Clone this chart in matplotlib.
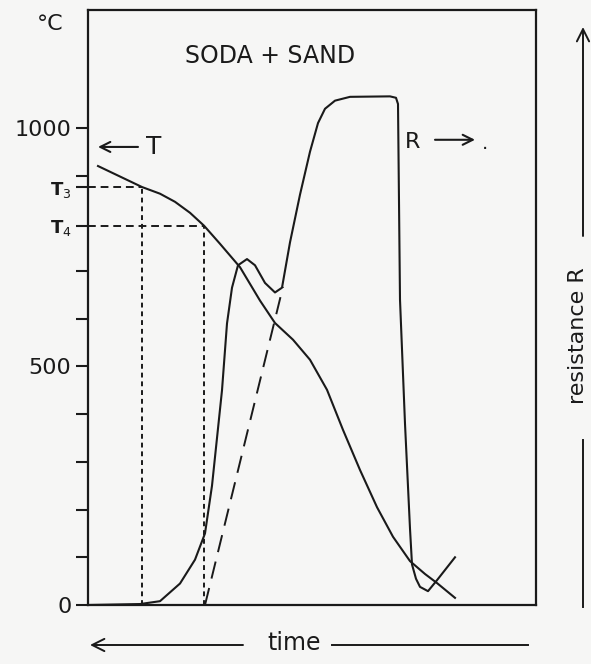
import matplotlib
matplotlib.use("Agg")
import matplotlib.pyplot as plt
from matplotlib.lines import Line2D
from matplotlib.patches import FancyArrowPatch

# ---------------- data ----------------
# time axis in arbitrary units (left axis = 0, right frame = 448)
temp_time = [10, 32, 54, 72, 87, 102, 116, 132, 152, 172, 187, 205, 222,
             239, 255, 272, 289, 305, 322, 337, 349, 367]
temp_vals = [920, 898, 876, 862, 845, 822, 795, 757, 708, 638, 591, 556, 514,
             451, 367, 283, 205, 143, 92, 65, 46, 15]

res_time = [0, 52, 72, 92, 107, 117, 124, 129, 134, 139, 144, 150, 159, 167,
            177, 187, 194, 202, 212, 222, 230, 237, 247, 262, 302, 308, 310,
            312, 317, 322, 324, 328, 332, 340, 349, 367]
res_vals = [0, 2, 8, 45, 95, 150, 250, 350, 450, 590, 665, 712, 725, 712,
            675, 655, 665, 760, 860, 950, 1010, 1040, 1057, 1065, 1066, 1063,
            1050, 640, 380, 160, 85, 55, 38, 29, 52, 100]

extrap_time = [117, 195]
extrap_vals = [0, 667]

T3_time, T3_val = 54, 876
T4_time, T4_val = 116, 795

ytick_vals = [0, 100, 200, 300, 400, 500, 600, 700, T4_val, T3_val, 900, 1000]
ytick_labels = ["0", "", "", "", "", "500", "", "", "T$_4$", "T$_3$", "", "1000"]

# ---------------- figure ----------------
W, H = 591, 664
fig = plt.figure(figsize=(W / 100, H / 100), dpi=100)
bg = "#f6f6f5"
fig.patch.set_facecolor(bg)
ax = fig.add_axes([88 / W, 1 - 605 / H, (536 - 88) / W, (605 - 10) / H])
ax.set_facecolor(bg)
ax.set_xlim(0, 448)
ax.set_ylim(0, 1247)

ink = "#1a1a1a"
for s in ax.spines.values():
    s.set_linewidth(1.6)
    s.set_color(ink)

ax.set_xticks([])
ax.set_yticks(ytick_vals)
ax.set_yticklabels(ytick_labels)
ax.tick_params(axis="y", direction="out", length=9, width=1.5, color=ink,
               labelsize=16, pad=3, labelcolor=ink)
for lab in ax.get_yticklabels():
    if "T" in lab.get_text():
        lab.set_fontsize(13)
        lab.set_fontweight("bold")

lw = 1.5
ax.plot(temp_time, temp_vals, color=ink, lw=lw, solid_joinstyle="round")
ax.plot(res_time, res_vals, color=ink, lw=lw, solid_joinstyle="round")
ax.plot(extrap_time, extrap_vals, color=ink, lw=1.4, dashes=(9, 5))

# T3 / T4 construction lines
ax.plot([0, T3_time], [T3_val, T3_val], color=ink, lw=1.4, dashes=(4, 2.5))
ax.plot([0, T4_time], [T4_val, T4_val], color=ink, lw=1.4, dashes=(4, 2.5))
ax.plot([T3_time, T3_time], [0, T3_val], color=ink, lw=1.4, dashes=(2.5, 2))
ax.plot([T4_time, T4_time], [0, T4_val], color=ink, lw=1.4, dashes=(2.5, 2))

# labels inside the plot
ax.text(182, 1150, "SODA + SAND", fontsize=17, ha="center", va="center", color=ink)
ax.annotate("", xy=(10, 960), xytext=(50, 960),
            arrowprops=dict(arrowstyle="->", lw=1.5, color=ink,
                            mutation_scale=18, shrinkA=0, shrinkB=0))
ax.text(66, 960, "T", fontsize=18, ha="center", va="center", color=ink)
ax.text(325, 970, "R", fontsize=16, ha="center", va="center", color=ink)
ax.annotate("", xy=(387, 975), xytext=(347, 975),
            arrowprops=dict(arrowstyle="->", lw=1.5, color=ink,
                            mutation_scale=18, shrinkA=0, shrinkB=0))
ax.text(397, 968, ".", fontsize=14, ha="center", va="center", color=ink)

# degree label
fig.text(50 / W, 1 - 24 / H, "°C", fontsize=16, ha="center", va="center", color=ink)

# bottom time arrow
fig.text(294 / W, 1 - 643 / H, "time", fontsize=17, ha="center", va="center", color=ink)
fig.add_artist(Line2D([332 / W, 528 / W], [1 - 645 / H, 1 - 645 / H],
                      color=ink, lw=1.4, transform=fig.transFigure))
fig.add_artist(FancyArrowPatch(
    (243 / W, 1 - 645 / H), (90 / W, 1 - 645 / H), transform=fig.transFigure,
    arrowstyle="->", mutation_scale=22, lw=1.4, color=ink, shrinkA=0, shrinkB=0))

# right resistance arrow
xr = 583 / W
fig.add_artist(Line2D([xr, xr], [1 - 607 / H, 1 - 440 / H],
                      color=ink, lw=1.4, transform=fig.transFigure))
fig.add_artist(FancyArrowPatch(
    (xr, 1 - 236 / H), (xr, 1 - 27 / H), transform=fig.transFigure,
    arrowstyle="->", mutation_scale=22, lw=1.4, color=ink, shrinkA=0, shrinkB=0))
fig.text(578 / W, 1 - 336 / H, "resistance R", fontsize=16, rotation=90,
         ha="center", va="center", color=ink)

fig.savefig("out.png", dpi=100, facecolor=bg)
